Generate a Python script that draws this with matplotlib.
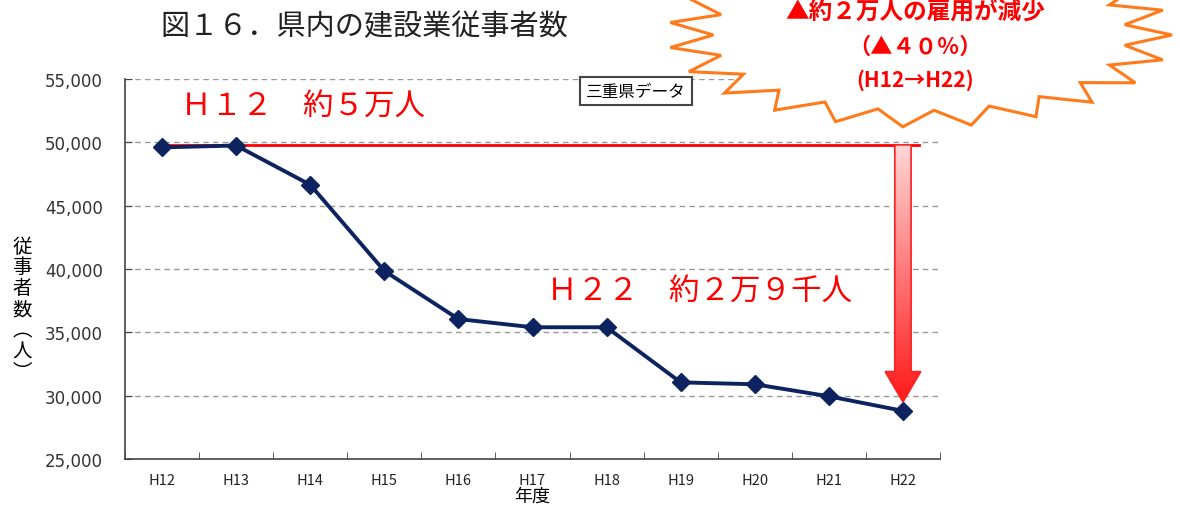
import numpy as np
import matplotlib.pyplot as plt
from matplotlib.patches import Polygon
from matplotlib.colors import LinearSegmentedColormap
from matplotlib.ticker import FuncFormatter, MultipleLocator

plt.rcParams['font.family'] = ['Noto Sans CJK JP', 'DejaVu Sans']

# データ
years = ['H12', 'H13', 'H14', 'H15', 'H16', 'H17', 'H18', 'H19', 'H20', 'H21', 'H22']
workers = [49600, 49750, 46650, 39850, 36050, 35400, 35400, 31050, 30900, 29950, 28800]
ref_level = 49800   # H12 の水準線
arrow_tip = 29500

W, H = 1179, 510
fig = plt.figure(figsize=(W / 100, H / 100), dpi=100)
ax = fig.add_axes([125 / W, 1 - 460 / H, 815 / W, 380 / H])

x = np.arange(len(years))
ax.plot(x, workers, color='#0c2360', lw=2.8, marker='D', ms=9, zorder=5)

ax.set_xlim(-0.5, len(years) - 0.5)
ax.set_ylim(25000, 55000)
ax.yaxis.set_major_locator(MultipleLocator(5000))
ax.yaxis.set_major_formatter(FuncFormatter(lambda v, p: f'{int(v):,}'))
ax.set_xticks(x)
ax.set_xticklabels(years)
ax.set_xticks(np.arange(-0.5, len(years), 1), minor=True)
ax.tick_params(axis='x', which='major', length=0, pad=10, labelsize=10.5, colors='#222222')
ax.tick_params(axis='x', which='minor', direction='in', length=5, color='#444444')
ax.tick_params(axis='y', direction='in', length=5, color='#444444', pad=16)
for lab in ax.get_yticklabels():
    lab.set_family('DejaVu Sans')
    lab.set_fontsize(12)
    lab.set_color('#333333')

for v in range(30000, 55001, 5000):
    ax.axhline(v, color='#999999', lw=1, ls=(0, (4, 3)), zorder=1)

for s in ['top', 'right']:
    ax.spines[s].set_visible(False)
for s in ['left', 'bottom']:
    ax.spines[s].set_color('#444444')
    ax.spines[s].set_linewidth(1.2)

ax.set_xlabel('年度', fontsize=13, labelpad=0)
fig.text(22 / W, 1 - 310 / H, '従\n事\n者\n数\n︵\n人\n︶', fontsize=14,
         ha='center', va='center', linespacing=1.0)

# H12 水準の赤線
ax.plot([0, 10.22], [ref_level, ref_level], color='#ff0000', lw=2, zorder=4)

# グラデーション矢印
xc = x[-1]
sw, hw = 0.11, 0.24
head_y = 31900
pts = [(xc - sw, ref_level), (xc + sw, ref_level), (xc + sw, head_y), (xc + hw, head_y),
       (xc, arrow_tip), (xc - hw, head_y), (xc - sw, head_y)]
arrow = Polygon(pts, closed=True, fc='none', ec='#ff2020', lw=1.2, zorder=7)
ax.add_patch(arrow)
grad = np.linspace(0, 1, 200).reshape(-1, 1)
cmap = LinearSegmentedColormap.from_list('rg', ['#ffd6d6', '#ff1a1a'])
im = ax.imshow(grad, cmap=cmap, aspect='auto', origin='upper',
               extent=[xc - hw, xc + hw, arrow_tip, ref_level], zorder=6)
im.set_clip_path(arrow)
ax.set_xlim(-0.5, len(years) - 0.5)
ax.set_ylim(25000, 55000)

ax.text(0.25, 52900, 'Ｈ１２　約５万人', color='#ff0000', fontsize=22, va='center')
ax.text(5.2, 38300, 'Ｈ２２　約２万９千人', color='#ff0000', fontsize=22, va='center')

# タイトル
fig.text(160 / W, 1 - 27 / H, '図１６．県内の建設業従事者数', fontsize=21, va='center',
         color='#222222')

# 三重県データ
fig.text(636 / W, 1 - 92 / H, '三重県データ', fontsize=12, ha='center', va='center',
         bbox=dict(boxstyle='square,pad=0.35', fc='white', ec='#444444', lw=1.5))

# 爆発マーク
n = 46
th = np.linspace(0, 2 * np.pi, n, endpoint=False)
r = np.where(np.arange(n) % 2 == 0, 1.0, 0.82)
cx, cy = 920, 36
bx = cx + 252 * r * np.cos(th)
by = cy + 92 * r * np.sin(th)
burst = Polygon(np.column_stack([bx / W, 1 - by / H]), closed=True,
                transform=fig.transFigure, fc='white', ec='#ff7a1a', lw=2.2, zorder=10)
fig.patches.append(burst)
fig.text(915 / W, 1 - 12 / H, '▲約２万人の雇用が減少', color='#ff0000', fontsize=17,
         fontweight='bold', ha='center', va='center', zorder=11)
fig.text(915 / W, 1 - 47 / H, '（▲４０％）', color='#ff0000', fontsize=16,
         fontweight='bold', ha='center', va='center', zorder=11)
fig.text(915 / W, 1 - 80 / H, '(H12→H22)', color='#ff0000', fontsize=15,
         fontweight='bold', ha='center', va='center', zorder=11)

fig.savefig('out.png', dpi=100)
